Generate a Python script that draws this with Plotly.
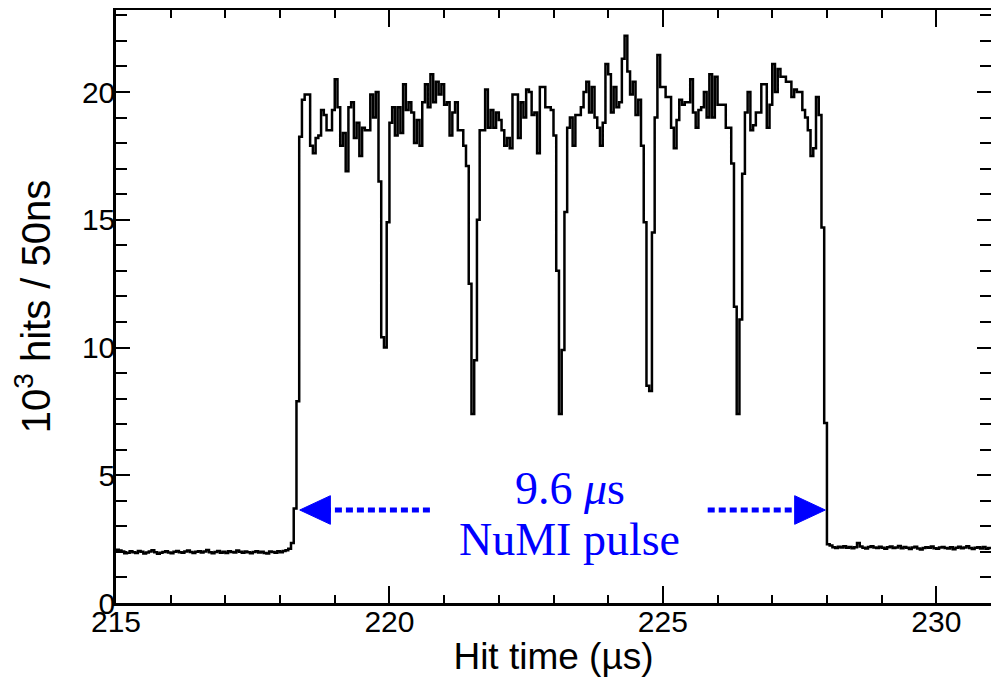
import plotly.graph_objects as go

# Histogram: 10^3 hits per 50 ns bin, from 215 to 231 microseconds
bin_start = 215.0
bin_width = 0.05

pre_pulse = [
    2.08, 2.05, 2.02, 1.95, 1.97, 2.03, 1.99, 1.96, 2.04, 2.01,
    1.94, 1.98, 2.02, 2.06, 1.99, 1.93, 1.97, 2.00, 2.03, 1.98,
    1.95, 2.01, 2.04, 1.99, 1.97, 2.02, 2.05, 2.00, 1.96, 2.01,
    2.03, 1.98, 2.02, 2.07, 1.99, 1.95, 2.00, 2.04, 1.97, 2.01,
    1.96, 2.03, 2.00, 1.98, 2.05, 2.01, 1.97, 2.02, 1.99, 1.95,
    2.00, 2.03, 1.98, 2.01, 1.96, 1.94, 2.02, 2.00, 1.97, 2.03,
    1.99, 2.04, 2.06, 2.12,
]

pulse = [
    2.35, 3.7, 7.9, 18.25, 19.7, 19.9, 19.9, 17.9, 17.6, 18.2,
    18.3, 19.3, 19.1, 18.5, 18.5, 19.3, 20.5, 19.4, 17.9, 18.4,
    16.9, 19.4, 19.6, 18.2, 18.8, 17.5, 18.6, 18.5, 18.5, 19.9,
    19.0, 20.0, 16.5, 10.4, 10.0, 14.9, 18.8, 19.4, 18.3, 19.4,
    18.4, 20.3, 19.3, 19.6, 19.2, 18.0, 18.9, 17.9, 19.6, 20.3,
    19.4, 20.7, 19.6, 20.4, 19.9, 20.3, 19.5, 19.6, 18.3, 19.2,
    19.6, 18.5, 18.5, 17.9, 17.1, 12.5, 7.4, 9.5, 15.0, 18.5,
    18.5, 20.1, 18.6, 19.3, 18.6, 19.2, 18.9, 18.5, 17.9, 18.2,
    17.8, 19.9, 19.9, 18.2, 19.6, 19.0, 20.1, 20.0, 19.1, 19.2,
    17.6, 20.2, 20.2, 19.4, 19.4, 19.3, 18.3, 13.0, 7.4, 9.9,
    15.3, 18.6, 19.0, 17.9, 19.1, 19.1, 19.4, 20.0, 20.4, 19.2,
    20.2, 19.0, 18.6, 17.9, 18.8, 21.1, 20.7, 19.2, 20.2, 19.4,
    19.6, 21.3, 22.2, 20.8, 19.9, 20.4, 19.1, 19.7, 17.9, 14.9,
    8.5, 8.3, 14.5, 19.0, 21.45, 20.2, 20.2, 19.8, 19.8, 18.6,
    17.8, 18.9, 19.7, 19.5, 19.6, 19.6, 20.5, 19.2, 18.6, 19.3,
    19.4, 20.0, 19.0, 20.7, 19.0, 20.6, 19.5, 19.5, 19.5, 18.6,
    18.6, 17.2, 11.6, 7.4, 11.1, 16.8, 19.2, 20.0, 18.5, 18.7,
    19.2, 19.2, 20.3, 20.3, 18.6, 19.5, 21.1, 20.0, 20.9, 20.6,
    20.6, 20.4, 20.4, 19.8, 20.1, 20.0, 20.0, 19.3, 19.0, 18.5,
    17.5, 17.8, 19.8, 19.1, 14.7, 7.05, 2.3,
]

post_pulse = [
    2.25, 2.18, 2.15, 2.20, 2.17, 2.22, 2.16, 2.19, 2.14, 2.18,
    2.35, 2.21, 2.16, 2.13, 2.19, 2.22, 2.17, 2.15, 2.20, 2.16,
    2.12, 2.18, 2.21, 2.15, 2.17, 2.23, 2.14, 2.19, 2.16, 2.11,
    2.17, 2.20, 2.13, 2.09, 2.15, 2.18, 2.16, 2.21, 2.14, 2.12,
    2.17, 2.19, 2.15, 2.13, 2.18, 2.10, 2.16, 2.20, 2.14, 2.17,
    2.22, 2.15, 2.11, 2.16, 2.18, 2.13, 2.19, 2.12, 2.15,
]

x_ticks = [215, 220, 225, 230]
y_ticks = [0, 5, 10, 15, 20]
x_title = "Hit time (\u00b5s)"
y_title = "10<sup>3</sup> hits / 50ns"
label_line1 = "9.6 <i>\u03bc</i>s"
label_line2 = "NuMI pulse"

counts = pre_pulse + pulse + post_pulse
edges = [bin_start + i * bin_width for i in range(len(counts) + 1)]
ys = counts + [counts[-1]]

fig = go.Figure()
fig.add_trace(go.Scatter(
    x=edges, y=ys, mode="lines", line=dict(shape="hv", color="black", width=2.5),
    hoverinfo="skip", showlegend=False,
))

blue = "#0000ff"
arrow_y = 3.64
# dotted arrow shafts
fig.add_shape(type="line", xref="x", yref="y", x0=220.74, x1=218.85, y0=arrow_y, y1=arrow_y,
              line=dict(color=blue, width=5, dash="7px,4px"))
fig.add_shape(type="line", xref="x", yref="y", x0=225.82, x1=227.45, y0=arrow_y, y1=arrow_y,
              line=dict(color=blue, width=5, dash="7px,4px"))
# arrow heads
fig.add_shape(type="path", xref="x", yref="y",
              path=f"M 218.36 {arrow_y} L 218.92 {arrow_y+0.56} L 218.92 {arrow_y-0.56} Z",
              fillcolor=blue, line=dict(color=blue, width=1))
fig.add_shape(type="path", xref="x", yref="y",
              path=f"M 227.97 {arrow_y} L 227.41 {arrow_y+0.56} L 227.41 {arrow_y-0.56} Z",
              fillcolor=blue, line=dict(color=blue, width=1))

fig.add_annotation(x=223.3, y=4.5, xref="x", yref="y", text=label_line1, showarrow=False,
                   font=dict(family="Liberation Serif", size=46, color=blue),
                   xanchor="center", yanchor="middle")
fig.add_annotation(x=223.3, y=2.47, xref="x", yref="y", text=label_line2, showarrow=False,
                   font=dict(family="Liberation Serif", size=46, color=blue),
                   xanchor="center", yanchor="middle")

axis_font = dict(family="Liberation Sans", size=30, color="black")
fig.update_layout(
    width=991, height=669,
    margin=dict(l=108, r=8, t=2, b=74),
    paper_bgcolor="white", plot_bgcolor="white",
    font=axis_font,
    xaxis=dict(
        range=[215, 231], tickvals=x_ticks, ticks="inside", ticklen=17, tickwidth=1.5,
        tickcolor="black", showline=True, linewidth=2.5, linecolor="black", mirror="allticks",
        showgrid=False, zeroline=False, tickfont=axis_font, automargin=False,
        ticklabelstandoff=-10,
        minor=dict(dtick=1, ticks="inside", ticklen=8, tickwidth=1.5, tickcolor="black", showgrid=False),
        title=dict(text=x_title, font=dict(family="Liberation Sans", size=37), standoff=0),
    ),
    yaxis=dict(
        range=[0, 23.21], tickvals=y_ticks, ticks="inside", ticklen=14, tickwidth=1.5,
        tickcolor="black", showline=True, linewidth=2.5, linecolor="black", mirror="allticks",
        showgrid=False, zeroline=False, tickfont=axis_font, automargin=False,
        ticklabelstandoff=-8,
        minor=dict(dtick=1, ticks="inside", ticklen=11, tickwidth=1.5, tickcolor="black", showgrid=False),
        title=dict(text=y_title, font=dict(family="Liberation Sans", size=40), standoff=20),
    ),
)

fig.write_html("out.html")
